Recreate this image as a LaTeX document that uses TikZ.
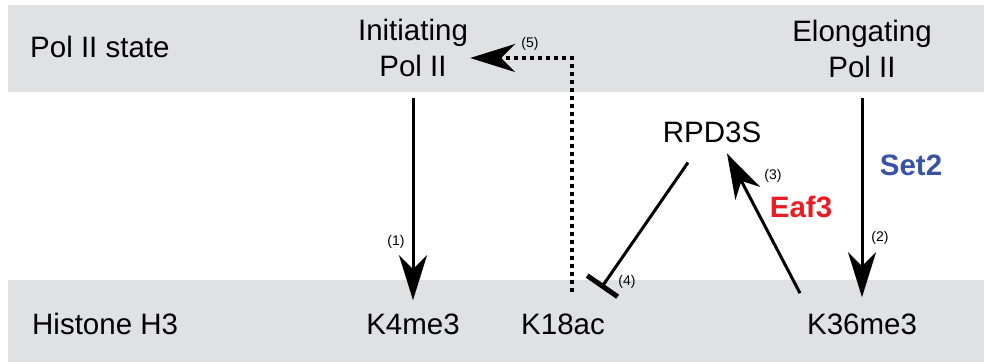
\documentclass[tikz,border=0pt]{standalone}
\usepackage{fontspec}
\setmainfont{Liberation Sans}
\usetikzlibrary{arrows.meta,calc}

\definecolor{band}{RGB}{224,225,227}
\definecolor{setblue}{RGB}{57,83,164}
\definecolor{eafred}{RGB}{237,28,36}

\tikzset{
  lbl/.style={inner sep=0pt, font=\fontsize{29.5}{36}\selectfont},
  num/.style={inner sep=0pt, font=\fontsize{14}{16}\selectfont},
  enzyme/.style={inner sep=0pt, font=\fontsize{29.5}{36}\selectfont\bfseries},
  headtip/.style={-{Stealth[length=45pt, width=28pt, inset=14pt]}},
  arr/.style={line width=3pt, headtip},
  inh/.style={line width=3pt, -{Bar[width=37pt, line width=5pt]}},
  dots/.style={line width=3.5pt, dash pattern=on 4pt off 4pt},
}

\begin{document}
\begin{tikzpicture}[x=1pt, y=-1pt]
\useasboundingbox (0,0) rectangle (984,362);

% grey bands for the two rows
\fill[band] (8,5) rectangle (984,92);
\fill[band] (8,280) rectangle (984,362);

% row titles
\node[lbl, anchor=base west] (polstate) at (30,57) {Pol II state};
\node[lbl, anchor=base west] (histone) at (32,334) {Histone H3};

% polymerase states
\node[lbl, align=center] (ini) at (413,48) {Initiating\\Pol II};
\node[lbl, align=center] (elo) at (862,48.5) {Elongating\\Pol II};

% complex and histone marks
\node[lbl, anchor=base] (rpd) at (712,142) {RPD3S};
\node[lbl, anchor=base] (k4) at (413,334) {K4me3};
\node[lbl, anchor=base] (k18) at (563,334) {K18ac};
\node[lbl, anchor=base] (k36) at (862,334) {K36me3};

% enzymes
\node[enzyme, text=setblue, anchor=base] (set2) at (911,175) {Set2};
\node[enzyme, text=eafred, anchor=base] (eaf3) at (801,217) {Eaf3};

% (1) initiating Pol II -> K4me3
\draw[arr, shorten <=20.5pt, shorten >=13pt] (ini.south) -- (k4.north);
% (2) elongating Pol II -> K36me3
\draw[arr, shorten <=20pt, shorten >=16pt] (elo.south) -- (k36.north);
% (3) K36me3 -> RPD3S
\draw[arr] ($(k36.north)+(-62,-20)$) -- ($(rpd.south)+(15,11)$);
% (4) RPD3S -| K18ac
\draw[inh] ($(rpd.south)+(-24,20)$) -- ($(k18.north)+(38,-25)$);
% (5) K18ac -> initiating Pol II, dotted
\draw[dots, headtip] ($(k18.north)+(9,-21)$) |- ($(ini.east)+(2,10)$);

% step numbers
\node[num] (n1) at (396,242) {(1)};
\node[num] (n2) at (880,238) {(2)};
\node[num] (n3) at (773,176) {(3)};
\node[num] (n4) at (627,282) {(4)};
\node[num] (n5) at (530,44) {(5)};
\end{tikzpicture}
\end{document}
